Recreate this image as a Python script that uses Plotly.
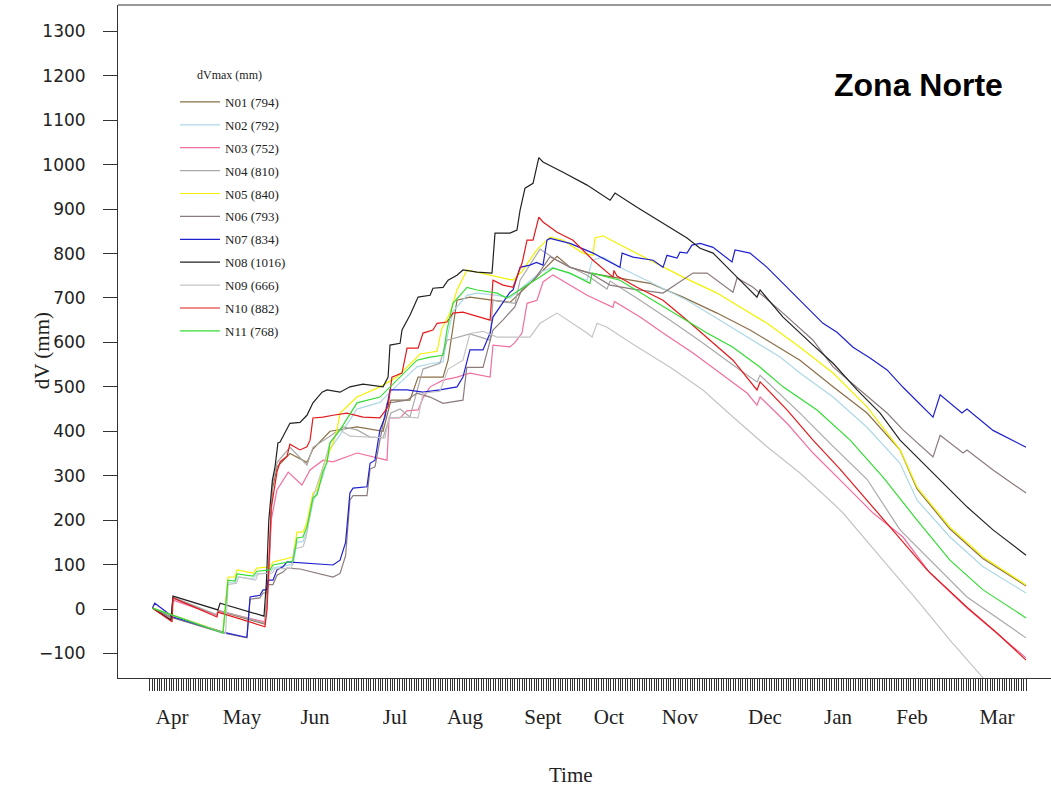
import plotly.graph_objects as go

# ---------------- data (x: days since start of season, y: dV in mm) -------------
n01_day = [1, 8.75, 9.6, 27.9, 28.3, 47.9, 49.5, 51, 53, 58.3, 65.4, 67.9, 75, 86.25, 97.1, 100.4, 108.3, 111.7, 122.1, 124.2,
           127.9, 133.3, 142.5, 150, 159.6, 169.6, 175, 183.3, 208.3, 222.1, 236.25, 250, 257.1, 270.8, 284.6, 298.75, 312.5,
           319.6, 333.3, 347.1, 365]
n01_dv = [2, -22, 25, -14, -4, -34, 90, 270, 320, 350, 330, 360, 400, 410, 400, 470, 470, 522, 522, 560,
          695, 702, 695, 690, 740, 794, 769, 756, 733, 702, 666, 628, 605, 560, 500, 441, 358,
          270, 180, 113, 52]

n02_day = [1, 30.4, 32.5, 35.4, 36.25, 42.9, 44.6, 50, 51.25, 59.6, 61.25, 63.75, 65.4, 67.9, 72.1, 75, 79.2, 86.25, 95.8, 100,
           111.25, 116.7, 122.1, 123.75, 126.25, 132.1, 136.25, 144.6, 150, 158.3, 162.5, 167.9, 182.1, 184.2, 188.75, 195.8,
           209.6, 223.75, 237.5, 251.25, 262.5, 270.8, 284.6, 298.75, 312.5, 319.6, 333.3, 347.1, 365]
n02_dv = [2, -54, 60, 58, 72, 68, 79, 81, 92, 101, 150, 152, 175, 240, 300, 360, 392, 450, 465, 488,
          545, 552, 556, 610, 670, 706, 711, 706, 700, 740, 758, 769, 740, 785, 792, 769,
          733, 695, 650, 605, 567, 531, 477, 409, 328, 245, 162, 95, 36]

n03_day = [1, 8.75, 9.6, 27.9, 28.3, 47.9, 49.4, 50.5, 52.9, 57.6, 63.3, 66.7, 72.1, 76.25, 86.25, 98.75, 99.6, 104.2, 107, 111.7,
           113.75, 116.7, 122.1, 127.9, 133.3, 141.7, 142.9, 150, 152.1, 155, 157.1, 161.25, 163.75, 167.9, 182.1, 192.9, 193.5,
           204.2, 213.75, 226.25, 237.5, 248.75, 252.9, 254.2, 265.4, 276.25, 290.4, 301.25, 313.75, 325, 340.4, 365]
n03_dv = [2, -25, 20, -14, -4, -29, 60, 200, 268, 308, 279, 313, 335, 331, 351, 335, 430, 430, 446, 448,
          475, 500, 515, 522, 531, 522, 594, 590, 600, 621, 688, 695, 736, 752, 706, 679, 692,
          657, 621, 576, 531, 486, 459, 477, 418, 351, 275, 216, 162, 81, 2, -110]

n04_day = [1, 8.75, 9.6, 27.9, 28.3, 47.9, 49.5, 51, 53, 58.3, 65.4, 67.9, 75, 80.4, 86.25, 91.7, 97.1, 100.4, 104.2, 108.3,
           113.75, 120.8, 123.75, 133.3, 141.7, 142.9, 152.1, 154.2, 162.5, 169.6, 182.1, 190.4, 191.7, 204.2, 216.7, 229.2,
           242.9, 252.9, 254.2, 270.8, 284.6, 298.75, 312.5, 326.25, 340.4, 365]
n04_dv = [2, -22, 27, -13, -2, -32, 100, 280, 330, 364, 324, 364, 389, 410, 403, 387, 385, 441, 450, 432,
          540, 553, 605, 619, 605, 695, 688, 740, 810, 785, 751, 720, 738, 695, 650, 603,
          549, 511, 526, 441, 366, 292, 178, 103, 27, -65]

n05_day = [1, 30.4, 32.5, 35.4, 36.25, 42.9, 44.6, 50, 51.25, 59.6, 61.25, 63.75, 65.4, 67.9, 69.6, 72.1, 73.75, 76.25, 77.9, 79.2,
           86.25, 95.8, 102.9, 112.5, 119.6, 121.5, 125, 127.9, 132.1, 136.25, 144.6, 151.25, 155, 161.25, 166.7, 172.1,
           180.4, 184.6, 185.4, 188.75, 194.6, 208.3, 222.1, 236.25, 250, 257.1, 270.8, 284.6, 298.75, 312.5, 319.6, 333.3,
           347.1, 365]
n05_dv = [2, -52, 72, 72, 88, 81, 92, 95, 106, 117, 173, 173, 194, 261, 268, 320, 342, 373, 403, 441,
          477, 500, 522, 574, 580, 630, 666, 718, 763, 758, 747, 740, 760, 809, 837, 830,
          801, 796, 835, 840, 823, 785, 747, 711, 666, 643, 589, 531, 455, 358, 274, 184,
          117, 54]

n06_day = [1, 9.6, 30.4, 39.6, 40.4, 41.7, 45.8, 47.1, 48.5, 49.2, 51.25, 52.9, 55.4, 57.1, 62.5, 76.25, 79.2, 81.5, 83.3, 84.6,
           90.4, 91.7, 93.75, 95.8, 98.75, 107, 111.25, 116.7, 122.1, 130.4, 132, 138.75, 142.9, 147, 152, 155, 160, 166.7,
           175, 183.3, 191.7, 201.25, 213.75, 226.25, 232.1, 242.9, 244.6, 251.25, 263.75, 276.25, 284.6, 295.8, 307.1,
           313.75, 326.25, 329.2, 338.75, 340.4, 351.25, 365]
n06_dv = [2, -20, -54, -65, -65, 22, 25, 36, 36, 55, 55, 76, 83, 92, 90, 72, 80, 120, 245, 255,
          255, 315, 320, 380, 463, 470, 486, 477, 463, 470, 544, 544, 628, 650, 680, 720, 740, 793,
          769, 756, 729, 720, 711, 756, 756, 713, 745, 724, 666, 605, 545, 493, 441,
          403, 342, 391, 351, 358, 313, 261]

n07_day = [1, 2, 9.6, 30.4, 39.6, 40.4, 41.7, 45.8, 47.1, 48.5, 49.2, 51.25, 52.9, 55.4, 57.1, 62.5, 76.25, 79.2, 81.5, 83.3,
           84.6, 90.4, 91.7, 93.75, 95.8, 97.9, 100, 107.1, 113.75, 120.8, 127.9, 130.4, 133.3, 138.75, 141.7, 142.9, 145.8,
           150, 151.25, 154.2, 158.3, 161, 163.75, 165.4, 166.7, 175, 184.6, 195.8, 196.7, 201.25, 209.6, 213.75, 215.4,
           219.6, 220.8, 223.75, 225.8, 229.2, 234.6, 242.5, 243.75, 250, 257.1, 263.75, 272.1, 280.4, 286.25, 292.9, 300,
           307.1, 313.75, 326.25, 329.2, 338.3, 340.4, 351.25, 365]
n07_dv = [2, 13, -18, -52, -63, -63, 27, 31, 43, 43, 65, 65, 88, 95, 106, 104, 99, 110, 150, 261,
          272, 275, 328, 335, 403, 432, 493, 493, 488, 493, 500, 522, 583, 583, 621, 657, 679,
          713, 718, 769, 774, 780, 774, 830, 834, 823, 801, 769, 801, 792, 785, 769, 796,
          790, 803, 801, 819, 823, 814, 781, 808, 801, 769, 733, 688, 643, 623, 589, 565,
          538, 499, 432, 482, 441, 450, 402, 364]

n08_day = [1, 8.75, 9.6, 28.3, 29.2, 47.5, 48.5, 49.5, 51, 52.1, 53.3, 54.2, 58.3, 62.5, 65.4, 67.9, 71.7, 73.75, 79.2, 83.3,
           88.75, 97.1, 99.2, 100, 104.2, 105, 108.3, 111.7, 116.7, 117.9, 122.1, 124.2, 127.9, 130.4, 136.25, 142.5, 143.75,
           150, 152.9, 154.2, 156.25, 159.6, 162, 163.75, 172.1, 182.1, 191.7, 193.75, 202.9, 213.75, 223.75, 229.2, 234.6,
           242.9, 252.9, 254.2, 263.75, 276.25, 284.6, 294.6, 304.2, 312.5, 329.2, 340.4, 351.25, 365]
n08_dv = [2, -25, 29, -2, 13, -16, 60, 200, 290, 320, 374, 376, 418, 420, 436, 464, 488, 493, 488, 500,
          506, 500, 522, 594, 598, 628, 661, 702, 706, 722, 724, 740, 751, 763, 758, 756, 846,
          846, 853, 898, 947, 958, 1016, 1006, 983, 954, 920, 936, 904, 868, 835, 812, 801,
          756, 702, 718, 657, 594, 553, 493, 441, 380, 290, 230, 178, 121]

n09_day = [1, 31.5, 32.5, 36, 37, 44, 45, 51, 52, 59, 60, 63.75, 65, 67.9, 72.1, 75, 79.2, 83.3, 97.9, 99.6,
           107, 111.7, 113.75, 120.8, 124.2, 130.4, 133.3, 138.75, 144.6, 158.3, 162.5, 169.6, 182.1, 184.2, 186.25, 190.4,
           202.9, 216.7, 230.4, 242.9, 257.1, 270.8, 284.6, 288.75, 305.4, 319.6, 333.3, 347.1, 365]
n09_dv = [2, -55, 55, 58, 72, 65, 79, 81, 90, 92, 135, 140, 160, 252, 320, 373, 403, 389, 385, 430,
          432, 430, 486, 490, 540, 560, 620, 625, 612, 612, 643, 666, 621, 612, 643, 634,
          590, 544, 493, 432, 365, 306, 238, 216, 110, 20, -70, -155, -250]

n10_day = [1, 9.2, 9.6, 27.9, 28.3, 47.9, 48.8, 49.5, 50.5, 51.25, 52.9, 54.2, 57.1, 58.3, 62.5, 65.4, 66.7, 67.9, 72.1, 76.25,
           82.1, 88.75, 95.8, 99.2, 100.8, 105, 107.1, 111.7, 113.75, 117.9, 119.6, 123.75, 126.25, 130.4, 141.7, 142.9,
           147.1, 151.25, 155, 157.1, 159.6, 162, 163.75, 169.6, 176.25, 184.6, 192.9, 193.3, 194.5, 202.9, 213.75, 223.75,
           233.3, 242.9, 252.9, 254.2, 265.4, 276.25, 287.5, 298.75, 309.6, 323.75, 340.4, 352.9, 365]
n10_dv = [2, -29, 25, -18, -7, -40, 0, 100, 230, 252, 308, 331, 344, 371, 358, 365, 380, 430, 432, 436,
          441, 432, 430, 455, 522, 531, 587, 587, 621, 628, 643, 646, 666, 668, 650, 740,
          729, 724, 778, 830, 830, 882, 871, 848, 830, 785, 747, 762, 750, 724, 695, 650,
          605, 560, 493, 511, 448, 380, 315, 245, 178, 88, 4, -54, -115]

n11_day = [1, 30.4, 32.5, 35.4, 36.25, 42.9, 44.6, 50, 51.25, 59.6, 61.25, 63.75, 65.4, 67.9, 69.6, 72.1, 73.75, 75, 79.2, 86.25,
           95.8, 100, 111.25, 116.7, 122.1, 123.75, 126.25, 132.1, 136.25, 144.6, 148.75, 158.3, 162.5, 167.9, 175, 183.3,
           184.2, 195.8, 209.6, 220.8, 232.1, 242.9, 254.2, 263.75, 277.9, 291.7, 305.4, 319.6, 333.3, 347.1, 365]
n11_dv = [2, -54, 65, 63, 79, 74, 85, 88, 99, 108, 160, 162, 185, 250, 257, 310, 330, 375, 403, 464,
          477, 500, 560, 567, 571, 628, 688, 724, 718, 711, 700, 733, 747, 767, 756, 733,
          756, 740, 695, 657, 621, 589, 544, 500, 448, 380, 297, 200, 110, 43, -20]

series_names = ["N01 (794)", "N02 (792)", "N03 (752)", "N04 (810)", "N05 (840)", "N06 (793)",
                "N07 (834)", "N08 (1016)", "N09 (666)", "N10 (882)", "N11 (768)"]
series_colors = ["#8b6f47", "#add8e6", "#f06fa0", "#a9a9a9", "#f2f200", "#8b7b7b",
                 "#2020d0", "#222222", "#c4c4c4", "#e31a1c", "#33dd33"]
legend_title = "dVmax (mm)"

month_labels = ["Apr", "May", "Jun", "Jul", "Aug", "Sept", "Oct", "Nov", "Dec", "Jan", "Feb", "Mar"]
month_pos = [9.2, 38.3, 68.75, 102.1, 131.25, 163.75, 191.25, 220.8, 256.25, 286.7, 317.5, 352.9]
day_ticks = list(range(0, 366))
y_ticks = [-100, 0, 100, 200, 300, 400, 500, 600, 700, 800, 900, 1000, 1100, 1200, 1300]

X_RANGE = [-13.33, 375.4]
Y_RANGE = [-155.3, 1359.4]

series = [(n01_day, n01_dv), (n02_day, n02_dv), (n03_day, n03_dv), (n04_day, n04_dv),
          (n05_day, n05_dv), (n06_day, n06_dv), (n07_day, n07_dv), (n08_day, n08_dv),
          (n09_day, n09_dv), (n10_day, n10_dv), (n11_day, n11_dv)]

fig = go.Figure()
for i, (d, v) in enumerate(series):
    fig.add_trace(go.Scatter(x=d, y=v, mode="lines", name=series_names[i],
                             line=dict(color=series_colors[i], width=1.2),
                             legendgroup="g%d" % i, hoverinfo="skip"))

# carrier trace for the month-label axis
fig.add_trace(go.Scatter(x=month_pos, y=[None] * len(month_pos), xaxis="x2", yaxis="y",
                         mode="lines", showlegend=False, hoverinfo="skip"))

serif = "Liberation Serif"
fig.update_layout(
    width=1051, height=787,
    margin=dict(l=118, r=0, t=5, b=109),
    paper_bgcolor="white", plot_bgcolor="white",
    showlegend=True,
    legend=dict(x=0.0611, y=0.8782, xanchor="left", yanchor="top",
                font=dict(family=serif, size=13, color="#222"),
                tracegroupgap=3, bgcolor="rgba(0,0,0,0)", itemwidth=40),
    xaxis=dict(range=X_RANGE, tickmode="array", tickvals=day_ticks, showticklabels=False,
               ticks="outside", ticklen=12, tickwidth=1, tickcolor="#333",
               showline=True, linecolor="#333", linewidth=1,
               showgrid=False, zeroline=False),
    xaxis2=dict(range=X_RANGE, overlaying="x", anchor="y", side="bottom",
                tickmode="array", tickvals=month_pos, ticktext=month_labels,
                ticks="", showline=False, showgrid=False, zeroline=False,
                tickfont=dict(family=serif, size=21, color="#222"),
                ticklabelstandoff=24),
    yaxis=dict(range=Y_RANGE, tickmode="array", tickvals=y_ticks,
               ticks="outside", ticklen=14, tickwidth=1, tickcolor="#333",
               showline=True, linecolor="#333", linewidth=1,
               tickfont=dict(family="DejaVu Sans", size=17, color="#222"),
               ticklabelstandoff=14, showgrid=False, zeroline=False),
    shapes=[dict(type="line", xref="paper", yref="paper", x0=0, x1=1, y0=1, y1=1,
                 line=dict(color="#333", width=1))],
    annotations=[
        dict(text=legend_title, xref="paper", yref="paper", x=0.12, y=0.896,
             xanchor="center", yanchor="middle", showarrow=False,
             font=dict(family=serif, size=12, color="#222")),
        dict(text="<b>Zona Norte</b>", xref="paper", yref="paper", x=0.8585, y=0.881,
             xanchor="center", yanchor="middle", showarrow=False,
             font=dict(family="Liberation Sans", size=32, color="black")),
        dict(text="Time", xref="paper", yref="paper", x=0.4855, y=-0.144,
             xanchor="center", yanchor="middle", showarrow=False,
             font=dict(family=serif, size=21, color="#222")),
        dict(text="dV (mm)", xref="paper", yref="paper", x=-0.0815, y=0.487,
             xanchor="center", yanchor="middle", showarrow=False, textangle=-90,
             font=dict(family=serif, size=21, color="#222")),
    ],
)

fig.write_html("out.html")
